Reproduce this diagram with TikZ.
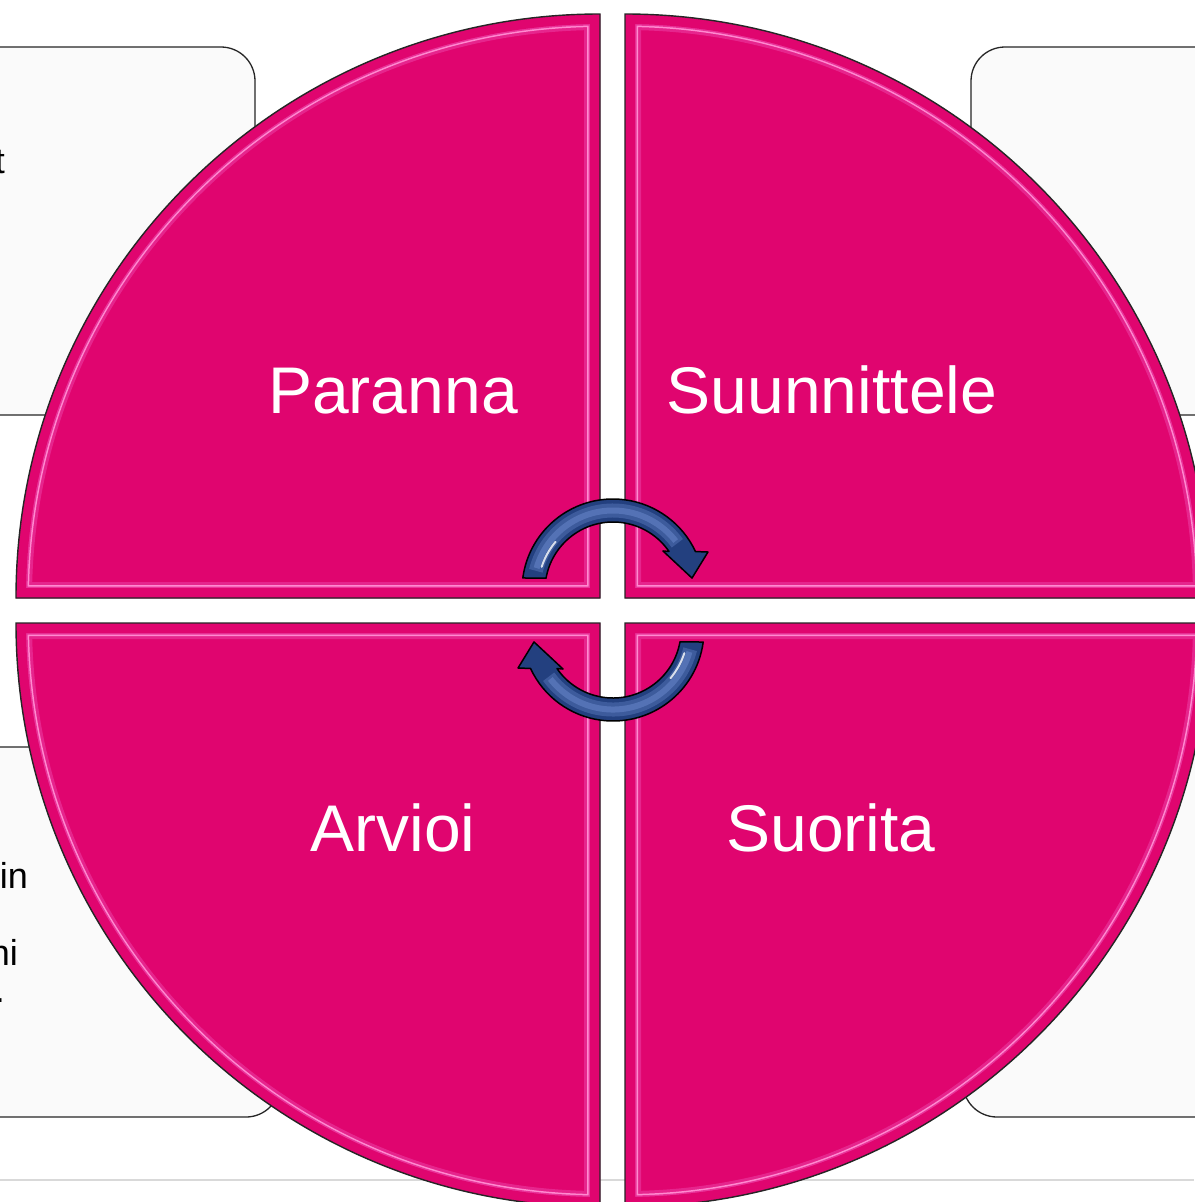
\documentclass[tikz,border=0pt]{standalone}
\usepackage{fontspec}
\setmainfont{Liberation Sans}
\usetikzlibrary{calc}
\definecolor{quadmagenta}{HTML}{E0056F}
\definecolor{quadglint}{HTML}{FF8AD0}
\definecolor{quadrim}{HTML}{E9349A}
\definecolor{cardgray}{HTML}{FAFAFA}
\definecolor{cyclenavy}{HTML}{23407F}
\definecolor{cycleglow}{HTML}{7090D4}

\begin{document}
\begin{tikzpicture}[
  x=1pt, y=1pt, yscale=-1,
  card/.style={draw=black!85, line width=1.3pt, fill=cardgray, rounded corners=34pt},
  cardtext/.style={font=\fontsize{36}{43}\selectfont, inner sep=0pt, anchor=base east},
  stage/.style={text=white, font=\fontsize{66}{79}\selectfont, inner sep=0pt, anchor=base},
  cyclearrow/.style={fill=cyclenavy, draw=black, line width=1.5pt, line join=round}
]
  \useasboundingbox (0,0) rectangle (1194,1202);
  \fill[white] (0,0) rectangle (1194,1202);
  \draw[black!15, line width=1.5pt] (0,1180) -- (1194,1180);

  \draw[card] (-60,47)  rectangle (255,415);
  \draw[card] (-60,747) rectangle (280,1117);
  \draw[card] (971,47)  rectangle (1260,415);
  \draw[card] (963,747) rectangle (1260,1117);
  \node[cardtext] (planend)  at (5,173)   {t};
  \node[cardtext] (evalone)  at (28,888)  {in};
  \node[cardtext] (evaltwo)  at (18,965)  {ni};
  \node[cardtext] (evaldot)  at (5,1002)  {.};

  \foreach \cx/\cy/\a/\b in {600/598/-90/-180, 625/598/-90/0, 600/623/180/90, 625/623/0/90} {
    \def\quadrant{(\cx,\cy) -- ++(\a:584) arc[start angle=\a, end angle=\b, radius=584] -- cycle}
    \begin{scope}
      \clip \quadrant;
      \fill[quadmagenta] \quadrant;
      \draw[quadrim, line width=32pt, opacity=.7] \quadrant;
      \draw[quadglint, line width=26pt] \quadrant;
      \draw[quadrim, line width=23pt] \quadrant;
      \draw[quadmagenta, line width=20pt] \quadrant;
    \end{scope}
    \draw[black!85, line width=1.4pt, line join=miter] \quadrant;
  }

  \node[stage] (paranna)     at (393,413) {Paranna};
  \node[stage] (suunnittele) at (832,413) {Suunnittele};
  \node[stage] (arvioi)      at (393,851) {Arvioi};
  \node[stage] (suorita)     at (831,851) {Suorita};

  \foreach \ax/\ay/\t in {613/590/0, 613/630/180} {
    \coordinate (axis) at (\ax,\ay);
    \draw[cyclearrow] ($(axis)+(\t+187.6:91)$) arc[start angle=\t+187.6, end angle=\t+335, radius=91]
      -- ($(axis)+(\t+338.2:102.3)$) -- ($(axis)+(\t+351.4:79.9)$) -- ($(axis)+(\t+322:63.4)$)
      -- ($(axis)+(\t+325.5:68)$) arc[start angle=\t+325.5, end angle=\t+190, radius=68] -- cycle;
    \draw[cycleglow, line width=14pt, opacity=.35] ($(axis)+(\t+194:79.5)$)
      arc[start angle=\t+194, end angle=\t+324, radius=79.5];
    \draw[cycleglow, line width=6pt, opacity=.45] ($(axis)+(\t+196:79.5)$)
      arc[start angle=\t+196, end angle=\t+322, radius=79.5];
    \draw[white, line width=2pt, opacity=.8, line cap=round] ($(axis)+(\t+198:75)$)
      arc[start angle=\t+198, end angle=\t+220, radius=75];
  }
\end{tikzpicture}
\end{document}
